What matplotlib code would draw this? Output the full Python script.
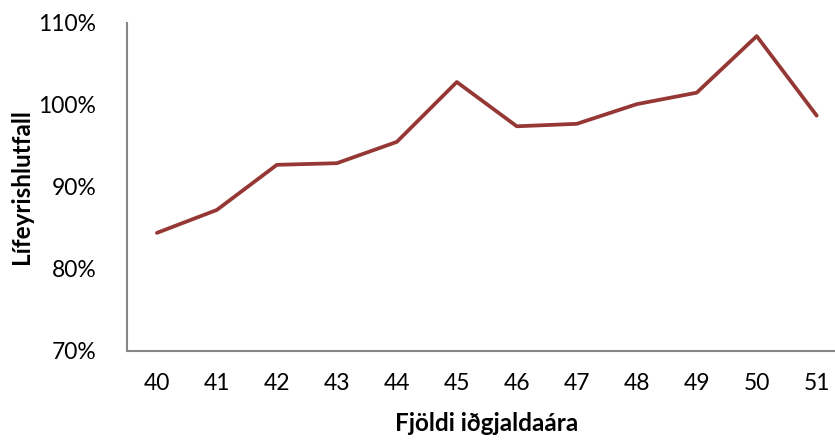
import matplotlib
matplotlib.use('Agg')
from matplotlib import pyplot as plt
from matplotlib.ticker import FuncFormatter

# gögn
ar = ['40', '41', '42', '43', '44', '45', '46', '47', '48', '49', '50', '51']
hlutfall = [84.4, 87.2, 92.7, 92.9, 95.5, 102.8, 97.4, 97.7, 100.1, 101.5, 108.4, 98.7]
y_ticks = [70, 80, 90, 100, 110]

plt.rcParams['font.family'] = ['Lato', 'DejaVu Sans']

fig = plt.figure(figsize=(8.35, 4.42), dpi=100)
ax = fig.add_axes([0.152, 0.206, 0.862, 0.742])

x = list(range(len(ar)))
ax.plot(x, hlutfall, color='#953735', linewidth=2.7, solid_capstyle='round')

ax.set_xlim(-0.5, len(ar) - 0.5)
ax.set_ylim(70, 110)
ax.set_xticks(x)
ax.set_xticklabels(ar)
ax.set_yticks(y_ticks)
ax.yaxis.set_major_formatter(FuncFormatter(lambda v, p: '%d%%' % v))

for s in ['top', 'right']:
    ax.spines[s].set_visible(False)
for s in ['left', 'bottom']:
    ax.spines[s].set_color('#868686')
    ax.spines[s].set_linewidth(1.5)

ax.tick_params(axis='both', length=0, labelsize=16.5, colors='black')
ax.tick_params(axis='x', pad=16)
ax.tick_params(axis='y', pad=22)

ax.set_xlabel('Fjöldi iðgjaldaára', fontsize=17.5, fontweight='bold', labelpad=13)
ax.set_ylabel('Lífeyrishlutfall', fontsize=17.5, fontweight='bold', labelpad=4)

plt.savefig('out.png', dpi=100)
